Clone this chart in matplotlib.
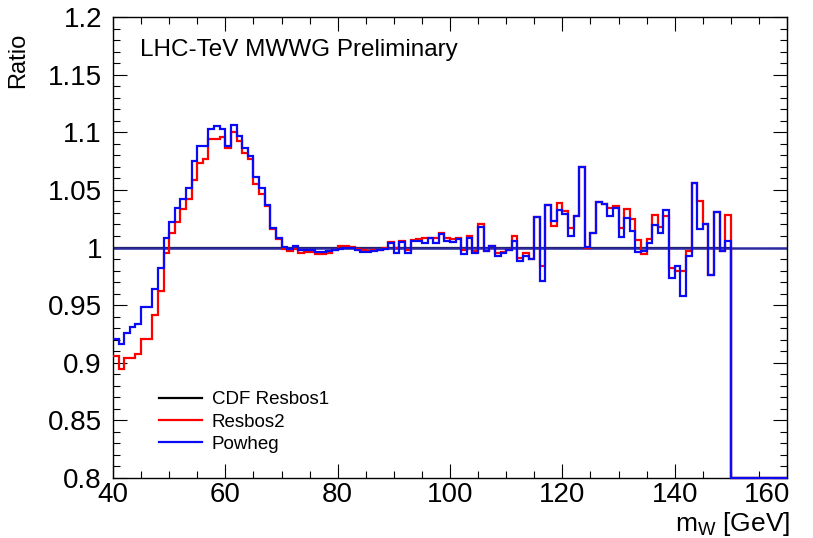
import numpy as np
import matplotlib
matplotlib.use("Agg")
import matplotlib.pyplot as plt
import matplotlib.transforms as mtransforms
from matplotlib.ticker import MultipleLocator, FuncFormatter
from matplotlib import font_manager

plt.rcParams['font.family'] = ['Liberation Sans', 'DejaVu Sans']
plt.rcParams['mathtext.fontset'] = 'custom'
plt.rcParams['mathtext.rm'] = 'Liberation Sans'
plt.rcParams['mathtext.it'] = 'Liberation Sans'

# ---- data: ratio to CDF Resbos1, 1 GeV bins from 40 to 160 GeV ----
bin_edges = np.arange(40, 161, 1)

resbos1 = [1.0] * 110 + [0.0] * 10

resbos2 = [
    0.906, 0.895, 0.904, 0.904, 0.908, 0.921, 0.921, 0.941, 0.9626, 0.995,
    1.013, 1.022, 1.033, 1.042, 1.059, 1.0736, 1.0765, 1.0945, 1.0945, 1.096,
    1.086, 1.100, 1.092, 1.082, 1.0765, 1.055, 1.046, 1.036, 1.0157, 1.007,
    0.999, 0.997, 0.999, 0.9955, 0.996, 0.996, 0.994, 0.994, 0.9955, 0.998,
    1.001, 1.001, 1.0005, 0.999, 0.9975, 0.9967, 0.9975, 0.9975, 0.9995, 1.0046,
    0.9995, 1.0055, 0.998, 1.0064, 1.007, 1.0084, 1.0084, 1.0084, 1.0128, 1.008,
    1.007, 1.0084, 0.998, 1.0104, 0.997, 1.020, 0.9968, 1.0015, 0.9954, 0.9962,
    0.9975, 1.0104, 0.991, 0.9954, 0.990, 1.0267, 0.9838, 1.0365, 1.019, 1.0388,
    1.0316, 1.0171, 1.0272, 1.070, 0.9997, 1.0122, 1.0394, 1.038, 1.0345, 1.036,
    1.0171, 1.033, 1.0243, 1.0064, 0.9945, 1.007, 1.0278, 1.018, 1.0272, 0.9823,
    0.9794, 0.9794, 0.9968, 1.056, 1.0403, 1.020, 0.976, 1.031, 0.9968, 1.0278,
] + [0.0] * 10

powheg = [
    0.921, 0.9165, 0.926, 0.931, 0.934, 0.948, 0.948, 0.964, 0.982, 1.008,
    1.022, 1.034, 1.042, 1.052, 1.075, 1.088, 1.088, 1.103, 1.105, 1.103,
    1.088, 1.106, 1.097, 1.086, 1.079, 1.061, 1.052, 1.037, 1.017, 1.008,
    1.0005, 0.999, 1.001, 0.998, 0.998, 0.9975, 0.9965, 0.9965, 0.997, 0.9975,
    0.9985, 1.000, 0.9995, 0.998, 0.9958, 0.9958, 0.9968, 0.998, 0.9988, 1.004,
    0.995, 1.0046, 0.995, 1.0055, 1.0055, 1.004, 1.008, 1.004, 1.0115, 1.0055,
    1.005, 1.007, 0.994, 1.0084, 0.9955, 1.018, 0.9968, 1.001, 0.9925, 0.9948,
    0.9975, 1.0055, 0.988, 0.9925, 0.990, 1.0267, 0.9707, 1.0365, 1.0229, 1.0325,
    1.0287, 1.0099, 1.0272, 1.070, 1.0006, 1.0122, 1.0394, 1.038, 1.0272, 1.0345,
    1.0093, 1.0258, 1.0142, 0.9959, 0.9968, 1.0035, 1.0191, 1.0128, 1.0322, 0.9736,
    0.9843, 0.9577, 0.9925, 1.056, 1.0162, 1.020, 0.976, 1.031, 0.9968, 1.0055,
] + [0.0] * 10

series_names = ["CDF Resbos1", "Resbos2", "Powheg"]
x_ticks = [40, 60, 80, 100, 120, 140, 160]
y_ticks = [0.8, 0.85, 0.9, 0.95, 1.0, 1.05, 1.1, 1.15, 1.2]
title_text = "LHC-TeV MWWG Preliminary"

# ---- figure ----
W, H = 813, 538
fig = plt.figure(figsize=(W / 100, H / 100), dpi=100)
ax = fig.add_axes([113 / W, 1 - 478 / H, (787 - 113) / W, (478 - 17) / H])

ymin, ymax = 0.8, 1.2
ax.set_xlim(40, 160)
ax.set_ylim(ymin, ymax)

lw = 1.6
ax.stairs(np.clip(resbos1, ymin, ymax), bin_edges, baseline=None,
          color='black', lw=lw, label=series_names[0], zorder=2)
ax.axhline(1.0, color='#2c2ca0', lw=1.8, zorder=2.5)
ax.stairs(np.clip(resbos2, ymin, ymax), bin_edges, baseline=None,
          color='#ff0000', lw=lw, label=series_names[1], zorder=3, clip_on=False)
ax.stairs(np.clip(powheg, ymin, ymax), bin_edges, baseline=None,
          color='#0a0af5', lw=lw, label=series_names[2], zorder=4, clip_on=False)

# ticks
ax.set_xticks(x_ticks)
ax.set_yticks(y_ticks)
ax.xaxis.set_minor_locator(MultipleLocator(5))
ax.yaxis.set_minor_locator(MultipleLocator(0.01))
ax.yaxis.set_major_formatter(FuncFormatter(lambda v, p: '%g' % round(v, 3)))
ax.tick_params(which='both', direction='in', top=True, right=True, width=0.8,
               labelsize=20)
ax.tick_params(which='major', length=10)
ax.tick_params(which='minor', length=5)
ax.tick_params(axis='x', pad=3)
ax.tick_params(axis='y', pad=8)
for s in ax.spines.values():
    s.set_linewidth(1.0)

# last x label pulled inside the canvas, as in the reference
fig.canvas.draw()
last = ax.get_xticklabels()[-1]
last.set_ha('right')
last.set_transform(last.get_transform() +
                   mtransforms.ScaledTranslation(3 / 100, 0, fig.dpi_scale_trans))

ax.text(0.04, 0.928, title_text, transform=ax.transAxes, fontsize=17.5,
        ha='left', va='center')

installed = {f.name for f in font_manager.fontManager.ttflist}
ratio_family = ['Liberation Sans Narrow', 'Liberation Sans'] \
    if 'Liberation Sans Narrow' in installed else ['Liberation Sans']
ratio_size = 19 if 'Liberation Sans Narrow' in installed else 17
fig.text(18 / W, 1 - 33 / H, "Ratio", rotation=90, ha='center', va='top',
         fontsize=ratio_size, family=ratio_family)
fig.text(790 / W, 0.5 / H, r"m$_{\mathrm{W}}$ [GeV]", ha='right',
         va='bottom', fontsize=19)

leg = ax.legend(loc='upper left', bbox_to_anchor=(146 / W, 1 - 378 / H),
                bbox_transform=fig.transFigure, frameon=False, fontsize=13.5,
                handlelength=2.3, handletextpad=0.5, labelspacing=0.28,
                borderpad=0.2)

fig.savefig("out.png", dpi=100)
